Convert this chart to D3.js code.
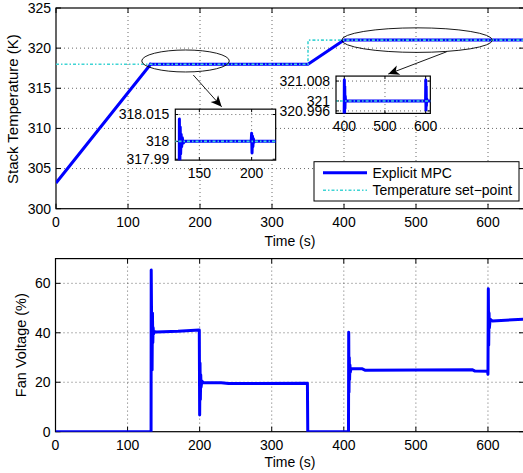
<!DOCTYPE html>
<html>
<head>
<meta charset="utf-8">
<script src="https://cdn.jsdelivr.net/npm/d3@7"></script>
<style>
  body { margin: 0; background: #fff; }
  svg { display: block; font-family: "Liberation Sans", Arial, sans-serif; }
</style>
</head>
<body>
<div id="chart"></div>
<script>
// ---- data ----
var tempTime = [0, 130.6, 130.9, 131.3, 131.7, 132.1, 132.6, 133.1, 133.7, 134.5, 136,
                199.6, 200.0, 200.4, 200.8, 201.2, 201.7, 202.3, 203.2,
                350, 399.6, 400.1, 400.6, 401.1, 401.6, 402.2, 403,
                599.8, 600.3, 600.8, 601.3, 601.8, 602.4, 603.5, 650];
var tempVal  = [303.2, 317.9, 318.0125, 317.985, 318.008, 317.993, 318.004, 317.997, 318.002, 317.999, 318,
                318, 318.0045, 317.9935, 318.003, 317.997, 318.0015, 317.9995, 318,
                318, 320.99, 321.0084, 320.994, 321.006, 320.997, 321.002, 321,
                321, 321.0084, 320.9964, 321.006, 320.998, 321.001, 321, 321];

var setTime = [0, 350, 350, 650];
var setVal  = [318, 318, 321, 321];

var fanTime = [0, 132.6, 132.8, 133.3, 133.6, 134, 134.5, 135, 135.5, 136, 137, 140, 170, 199.5,
               200, 200.5, 201, 201.5, 202, 203, 205, 230, 240, 349.5, 350,
               406.5, 406.8, 407.2, 407.6, 408, 408.5, 409, 410, 425, 430, 578, 582, 599.5,
               600, 600.5, 601, 601.5, 602, 603, 606, 650];
var fanVal  = [0, 0, 65.4, 45, 30, 25, 48, 36, 42, 39.5, 40.6, 40.3, 40.6, 41.1,
               6.8, 27.8, 13, 23, 18, 20.5, 19.8, 19.8, 19.5, 19.6, 0,
               0, 40.2, 16, 30, 21, 27, 24, 25.6, 25.5, 24.8, 25.1, 24.5, 24.4,
               23.2, 57.8, 35, 48, 42, 45.5, 44.8, 45.5];

var timeTicks = [0, 100, 200, 300, 400, 500, 600];
var tempTicks = [300, 305, 310, 315, 320, 325];
var fanTicks  = [0, 20, 40, 60];

var inset1XTicks = [150, 200];
var inset1YTicks = [317.99, 318, 318.015];
var inset1YLabels = ["317.99", "318", "318.015"];
var inset2XTicks = [400, 500, 600];
var inset2YTicks = [320.996, 321, 321.008];
var inset2YLabels = ["320.996", "321", "321.008"];

// inset boxes, given in the main chart's (time, temperature) units
var inset1Box = {t0: 165.7, t1: 305.1, T0: 306.05, T1: 312.4};
var inset2Box = {t0: 388.9, t1: 519.9, T0: 311.87, T1: 316.52};
var inset1Domain = {x: [127, 223], y: [317.9895, 318.018]};
var inset2Domain = {x: [379.6, 611.5], y: [320.995, 321.010]};

// zoom ellipses and arrows (main chart units)
var ellCx = [179.9, 501.4];
var ellCy = [318.4, 321.0];
var ellRx = [60.8, 104.6];
var ellRy = [1.37, 1.53];
var arrowFrom = [[190.7, 316.65], [542.6, 319.55]];
var arrowTo   = [[230.1, 312.69], [461.5, 316.77]];

var WIDTH = 523, HEIGHT = 473;
var BLUE = "#0000ff", CYAN = "#3fd4d4";
var FONT = 14;

var SVG = d3.select("#chart").append("svg")
    .attr("width", WIDTH).attr("height", HEIGHT);

var xTop = d3.scaleLinear().domain([0, 650]).range([56, 524]);
var yTop = d3.scaleLinear().domain([300, 325]).range([208.7, 8]);
var xBot = d3.scaleLinear().domain([0, 650]).range([55.5, 524]);
var yBot = d3.scaleLinear().domain([0, 70]).range([431.7, 258.6]);

var clipId = 0;
function makeClip(x0, y0, w, h) {
    var id = "clip" + (clipId++);
    SVG.append("clipPath").attr("id", id)
      .append("rect").attr("x", x0).attr("y", y0).attr("width", w).attr("height", h);
    return "url(#" + id + ")";
}

// frame, ticks (inward, on both sides), dotted grid, tick labels
function drawAxes(x, y, xt, yt, ylabels, opt) {
    var g = SVG.append("g");
    var x0 = x.range()[0], x1 = x.range()[1];
    var y0 = y.range()[1], y1 = y.range()[0];
    var tl = opt.tick || 5;

    if (opt.fill) {
        g.append("rect").attr("x", x0).attr("y", y0)
          .attr("width", x1 - x0).attr("height", y1 - y0).attr("fill", "#fff");
    }
    var grid = g.append("g").attr("stroke", "#444").attr("stroke-width", 0.8)
        .attr("stroke-dasharray", "1,3");
    xt.forEach(function(d) {
        if (Math.abs(x(d) - x0) < 1 || Math.abs(x(d) - x1) < 1) return;
        grid.append("line").attr("x1", x(d)).attr("x2", x(d)).attr("y1", y0).attr("y2", y1);
    });
    yt.forEach(function(d) {
        if (Math.abs(y(d) - y0) < 1 || Math.abs(y(d) - y1) < 1) return;
        grid.append("line").attr("y1", y(d)).attr("y2", y(d)).attr("x1", x0).attr("x2", x1);
    });

    var tk = g.append("g").attr("stroke", "#000").attr("stroke-width", 1);
    xt.forEach(function(d) {
        tk.append("line").attr("x1", x(d)).attr("x2", x(d)).attr("y1", y1).attr("y2", y1 - tl);
        tk.append("line").attr("x1", x(d)).attr("x2", x(d)).attr("y1", y0).attr("y2", y0 + tl);
    });
    yt.forEach(function(d) {
        tk.append("line").attr("y1", y(d)).attr("y2", y(d)).attr("x1", x0).attr("x2", x0 + tl);
        tk.append("line").attr("y1", y(d)).attr("y2", y(d)).attr("x1", x1).attr("x2", x1 - tl);
    });

    g.append("rect").attr("x", x0).attr("y", y0)
      .attr("width", x1 - x0).attr("height", y1 - y0)
      .attr("fill", "none").attr("stroke", "#000").attr("stroke-width", 1.2);

    g.selectAll("text.xl").data(xt).enter().append("text")
        .attr("x", d => x(d)).attr("y", y1 + opt.xlOff)
        .attr("text-anchor", "middle").attr("font-size", FONT)
        .text(d => d);
    g.selectAll("text.yl").data(yt).enter().append("text")
        .attr("x", x0 - opt.ylOff).attr("y", d => y(d)).attr("dy", "0.35em")
        .attr("text-anchor", "end").attr("font-size", FONT)
        .text((d, i) => ylabels ? ylabels[i] : d);
    return g;
}

function drawSeries(g, x, y, tArr, vArr, clip) {
    var line = d3.line().x(d => x(d[0])).y(d => y(d[1]));
    var wrap = g.append("g").attr("clip-path", clip);
    wrap.append("path")
        .datum(tArr.map((t, i) => [t, vArr[i]]))
        .attr("d", line).attr("fill", "none")
        .attr("stroke", BLUE).attr("stroke-width", 3).attr("stroke-linejoin", "round");
    return wrap;
}

function drawSetpoint(wrap, x, y) {
    var line = d3.line().x(d => x(d[0])).y(d => y(d[1]));
    wrap.append("path")
        .datum(setTime.map((t, i) => [t, setVal[i]]))
        .attr("d", line).attr("fill", "none")
        .attr("stroke", CYAN).attr("stroke-width", 1.6)
        .attr("stroke-dasharray", "3,2,1.5,2");
}

// ---- top: stack temperature ----
drawAxes(xTop, yTop, timeTicks, tempTicks, null, {xlOff: 18, ylOff: 5});
var topClip = makeClip(56, 8, 470, 200.7);
var topWrap = drawSeries(SVG, xTop, yTop, tempTime, tempVal, topClip);
drawSetpoint(topWrap, xTop, yTop);

SVG.append("text").attr("x", 290).attr("y", 241).attr("dy", "0.35em")
    .attr("text-anchor", "middle").attr("font-size", FONT).text("Time (s)");
SVG.append("text")
    .attr("transform", "translate(13," + yTop(312.4) + ") rotate(-90)")
    .attr("dy", "0.35em").attr("text-anchor", "middle").attr("font-size", 15)
    .text("Stack Temperature (K)");

// ellipses and arrows
var ann = SVG.append("g").attr("fill", "none").attr("stroke", "#000").attr("stroke-width", 0.9);
ellCx.forEach(function(c, i) {
    ann.append("ellipse")
        .attr("cx", xTop(c)).attr("cy", yTop(ellCy[i]))
        .attr("rx", xTop(ellRx[i]) - xTop(0)).attr("ry", yTop(300) - yTop(300 + ellRy[i]));
});
arrowFrom.forEach(function(f, i) {
    var ax = xTop(f[0]), ay = yTop(f[1]);
    var bx = xTop(arrowTo[i][0]), by = yTop(arrowTo[i][1]);
    var ang = Math.atan2(by - ay, bx - ax);
    ann.append("line").attr("x1", ax).attr("y1", ay).attr("x2", bx).attr("y2", by);
    var L = 11, Wd = 5, N = 8;
    var pts = [[0, 0], [-L, -Wd], [-N, 0], [-L, Wd]].map(function(p) {
        return [bx + p[0] * Math.cos(ang) - p[1] * Math.sin(ang),
                by + p[0] * Math.sin(ang) + p[1] * Math.cos(ang)];
    });
    SVG.append("path").attr("d", "M" + pts.join("L") + "Z").attr("fill", "#000");
});

// insets
function drawInset(box, dom, xt, yt, ylabels) {
    var x = d3.scaleLinear().domain(dom.x).range([xTop(box.t0), xTop(box.t1)]);
    var y = d3.scaleLinear().domain(dom.y).range([yTop(box.T0), yTop(box.T1)]);
    drawAxes(x, y, xt, yt, ylabels, {xlOff: 18, ylOff: 6, tick: 3, fill: true});
    var clip = makeClip(x.range()[0], y.range()[1],
                        x.range()[1] - x.range()[0], y.range()[0] - y.range()[1]);
    var wrap = drawSeries(SVG, x, y, tempTime, tempVal, clip);
    drawSetpoint(wrap, x, y);
}
drawInset(inset1Box, inset1Domain, inset1XTicks, inset1YTicks, inset1YLabels);
drawInset(inset2Box, inset2Domain, inset2XTicks, inset2YTicks, inset2YLabels);

// legend
var leg = SVG.append("g").attr("transform", "translate(314,161.7)");
leg.append("rect").attr("width", 205).attr("height", 39.3)
    .attr("fill", "#fff").attr("stroke", "#000").attr("stroke-width", 1);
leg.append("line").attr("x1", 9).attr("x2", 53).attr("y1", 11).attr("y2", 11)
    .attr("stroke", BLUE).attr("stroke-width", 3);
leg.append("line").attr("x1", 9).attr("x2", 53).attr("y1", 28.5).attr("y2", 28.5)
    .attr("stroke", CYAN).attr("stroke-width", 1.6).attr("stroke-dasharray", "3,2,1.5,2");
leg.append("text").attr("x", 58.5).attr("y", 11).attr("dy", "0.35em")
    .attr("font-size", FONT).text("Explicit MPC");
leg.append("text").attr("x", 58.5).attr("y", 28.5).attr("dy", "0.35em")
    .attr("font-size", FONT).text("Temperature set\u2212point");

// ---- bottom: fan voltage ----
drawAxes(xBot, yBot, timeTicks, fanTicks, null, {xlOff: 18, ylOff: 5});
var botClip = makeClip(55.5, 258.6, 470, 173.1);
drawSeries(SVG, xBot, yBot, fanTime, fanVal, botClip);

SVG.append("text").attr("x", 290).attr("y", 462).attr("dy", "0.35em")
    .attr("text-anchor", "middle").attr("font-size", FONT).text("Time (s)");
SVG.append("text")
    .attr("transform", "translate(21," + yBot(35) + ") rotate(-90)")
    .attr("dy", "0.35em").attr("text-anchor", "middle").attr("font-size", 14.5)
    .text("Fan Voltage (%)");
</script>
</body>
</html>
